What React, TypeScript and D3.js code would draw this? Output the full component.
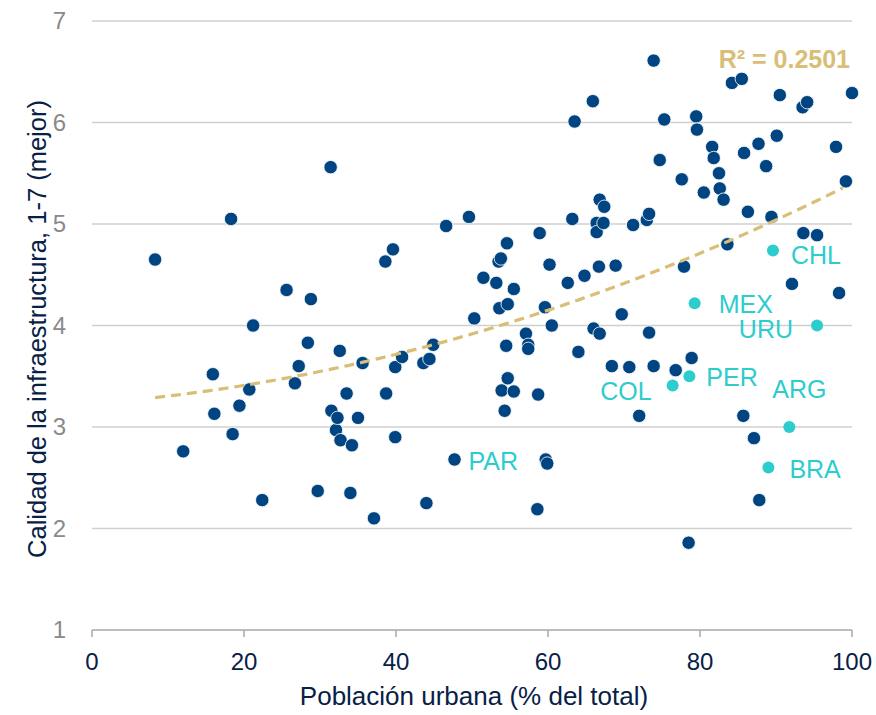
import React from "react";
import * as d3 from "d3";

// Urban population (% of total) for each country (dark points)
const urbanX: number[] = [
  8.3, 12.0, 15.9, 16.1, 18.3, 18.5, 19.4, 20.7, 21.2, 22.4, 25.6, 26.7, 27.2, 28.4, 28.8, 29.7,
  31.4, 31.5, 32.1, 32.3, 32.6, 32.7, 33.5, 34.0, 34.2, 35.0, 35.6, 37.1, 38.6, 38.7, 39.6, 39.9,
  39.9, 40.8, 43.6, 44.0, 44.4, 44.9, 46.6, 47.7, 49.6, 50.3, 51.5, 53.2, 53.5, 53.6, 53.8, 53.9,
  54.3, 54.5, 54.6, 54.7, 54.7, 55.5, 55.5, 57.1, 57.4, 57.4, 58.6, 58.7, 58.9, 59.6, 59.7, 59.9,
  60.2, 60.5, 62.6, 63.2, 63.5, 64.0, 64.8, 65.9, 66.0, 66.4, 66.4, 66.7, 66.8, 66.8, 67.3, 67.4,
  68.4, 68.9, 69.7, 70.7, 71.2, 72.0, 73.0, 73.3, 73.3, 73.9, 73.9, 74.7, 75.3, 76.8, 77.6, 77.9,
  78.5, 78.9, 79.5, 79.6, 80.5, 81.6, 81.8, 82.5, 82.6, 83.1, 83.6, 84.2, 85.5, 85.7, 85.8, 86.3,
  87.1, 87.7, 87.8, 88.7, 89.4, 90.1, 90.5, 92.1, 93.5, 93.6, 94.1, 95.4, 97.9, 98.3, 99.2, 100.0,
];
// Infrastructure quality, 1-7 (dark points)
const infraY: number[] = [
  4.65, 2.76, 3.52, 3.13, 5.05, 2.93, 3.21, 3.37, 4.00, 2.28, 4.35, 3.43, 3.60, 3.83, 4.26, 2.37,
  5.56, 3.16, 2.97, 3.09, 3.75, 2.87, 3.33, 2.35, 2.82, 3.09, 3.63, 2.10, 4.63, 3.33, 4.75, 3.59,
  2.90, 3.69, 3.63, 2.25, 3.67, 3.81, 4.98, 2.68, 5.07, 4.07, 4.47, 4.42, 4.63, 4.17, 4.66, 3.36,
  3.16, 3.80, 4.81, 4.21, 3.48, 4.36, 3.35, 3.92, 3.81, 3.77, 2.19, 3.32, 4.91, 4.18, 2.68, 2.64,
  4.60, 4.00, 4.42, 5.05, 6.01, 3.74, 4.49, 6.21, 3.97, 5.01, 4.92, 4.58, 5.24, 3.92, 5.01, 5.17,
  3.60, 4.59, 4.11, 3.59, 4.99, 3.11, 5.04, 5.10, 3.93, 6.61, 3.60, 5.63, 6.03, 3.56, 5.44, 4.58,
  1.86, 3.68, 6.06, 5.93, 5.31, 5.76, 5.65, 5.50, 5.35, 5.24, 4.80, 6.39, 6.43, 3.11, 5.70, 5.12,
  2.89, 5.79, 2.28, 5.57, 5.07, 5.87, 6.27, 4.41, 6.15, 4.91, 6.20, 4.89, 5.76, 4.32, 5.42, 6.29,
];

// Highlighted Latin American countries
const latamNames: string[] = ["CHL", "MEX", "URU", "PER", "COL", "ARG", "BRA"];
const latamX: number[] = [89.6, 79.3, 95.4, 78.6, 76.4, 91.75, 89.0];
const latamY: number[] = [4.74, 4.22, 4.0, 3.5, 3.41, 3.0, 2.6];

// Paraguay is drawn as a regular point but labelled
const parName = "PAR";
const parX = 47.7;
const parY = 2.68;

// Trend line (polynomial order 2): y = c0 + c1*x + c2*x^2
const trendCoef: number[] = [3.2314, 0.00574, 0.0001595];
const trendRange: number[] = [8.3, 99.2];
const rSquaredLabel = "R² = 0.2501";

const xTicks: number[] = [0, 20, 40, 60, 80, 100];
const yTicks: number[] = [1, 2, 3, 4, 5, 6, 7];
const xTitle = "Población urbana (% del total)";
const yTitle = "Calidad de la infraestructura, 1-7 (mejor)";

// label placement (pixels relative to point)
const labelLayout: Record<string, { dx: number; dy: number; anchor: string }> = {
  CHL: { dx: 18, dy: 14, anchor: "start" },
  MEX: { dx: 24, dy: 10, anchor: "start" },
  URU: { dx: -24, dy: 12, anchor: "end" },
  PER: { dx: 17, dy: 10, anchor: "start" },
  COL: { dx: -21, dy: 15, anchor: "end" },
  ARG: { dx: -17, dy: -29, anchor: "start" },
  BRA: { dx: 21, dy: 10, anchor: "start" },
  PAR: { dx: 14, dy: 11, anchor: "start" },
};

const W = 876;
const H = 715;
const FONT = "'Liberation Sans', Arial, sans-serif";
const DARK = "#004481";
const CYAN = "#2DCCCD";
const GOLD = "#D8BE76";
const NAVY = "#072146";

export default function App() {
  const x = d3.scaleLinear().domain([0, 100]).range([92, 852]);
  const y = d3.scaleLinear().domain([1, 7]).range([630, 21]);

  const trendFn = (v: number) => trendCoef[0] + trendCoef[1] * v + trendCoef[2] * v * v;
  const trendXs = d3.range(trendRange[0], trendRange[1] + 0.001, 0.5);
  const trendPath =
    d3
      .line<number>()
      .x((v) => x(v))
      .y((v) => y(trendFn(v)))(trendXs) || "";

  const dark = urbanX.map((v, i) => ({ x: v, y: infraY[i] }));
  const latam = latamNames.map((n, i) => ({ name: n, x: latamX[i], y: latamY[i] }));

  return (
    <svg
      width={W}
      height={H}
      style={{ position: "absolute", left: 0, top: 0, background: "#fff" }}
      fontFamily={FONT}
    >
      <rect x={0} y={0} width={W} height={H} fill="#fff" />
      {/* gridlines */}
      {yTicks
        .filter((t) => t !== 1)
        .map((t) => (
          <line key={t} x1={x(0)} x2={x(100)} y1={y(t)} y2={y(t)} stroke="#D0D0D0" strokeWidth={1.5} />
        ))}
      {/* x axis */}
      <line x1={x(0)} x2={x(100)} y1={y(1)} y2={y(1)} stroke="#A8A8A8" strokeWidth={1.5} />
      {xTicks.map((t) => (
        <g key={t}>
          <line x1={x(t)} x2={x(t)} y1={y(1)} y2={y(1) + 7} stroke="#A8A8A8" strokeWidth={1.5} />
          <text x={x(t)} y={670} textAnchor="middle" fontSize={24} fill={NAVY}>
            {t}
          </text>
        </g>
      ))}
      {yTicks.map((t) => (
        <text key={t} x={66} y={y(t)} dy="0.35em" textAnchor="end" fontSize={24} fill="#8A8A8A">
          {t}
        </text>
      ))}
      {/* axis titles */}
      <text x={x(50) + 2} y={705} textAnchor="middle" fontSize={26} fill={NAVY}>
        {xTitle}
      </text>
      <text
        transform={`translate(46, ${329}) rotate(-90)`}
        textAnchor="middle"
        fontSize={25.5}
        fill={NAVY}
      >
        {yTitle}
      </text>
      {/* dark points */}
      {dark.map((d, i) => (
        <circle key={i} cx={x(d.x)} cy={y(d.y)} r={6.7} fill={DARK} stroke="#fff" strokeWidth={0.8} />
      ))}
      {/* trend line */}
      <path d={trendPath} fill="none" stroke={GOLD} strokeWidth={3.2} strokeDasharray="10 6" />
      {/* Paraguay label */}
      <text
        x={x(parX) + labelLayout[parName].dx}
        y={y(parY) + labelLayout[parName].dy}
        textAnchor={labelLayout[parName].anchor as any}
        fontSize={25}
        fill={CYAN}
      >
        {parName}
      </text>
      {/* LatAm points */}
      {latam.map((d) => (
        <g key={d.name}>
          <circle cx={x(d.x)} cy={y(d.y)} r={6} fill={CYAN} />
          <text
            x={x(d.x) + labelLayout[d.name].dx}
            y={y(d.y) + labelLayout[d.name].dy}
            textAnchor={labelLayout[d.name].anchor as any}
            fontSize={25}
            fill={CYAN}
          >
            {d.name}
          </text>
        </g>
      ))}
      {/* R squared */}
      <text x={850} y={68} textAnchor="end" fontSize={25} fontWeight="bold" fill={GOLD}>
        {rSquaredLabel}
      </text>
    </svg>
  );
}
